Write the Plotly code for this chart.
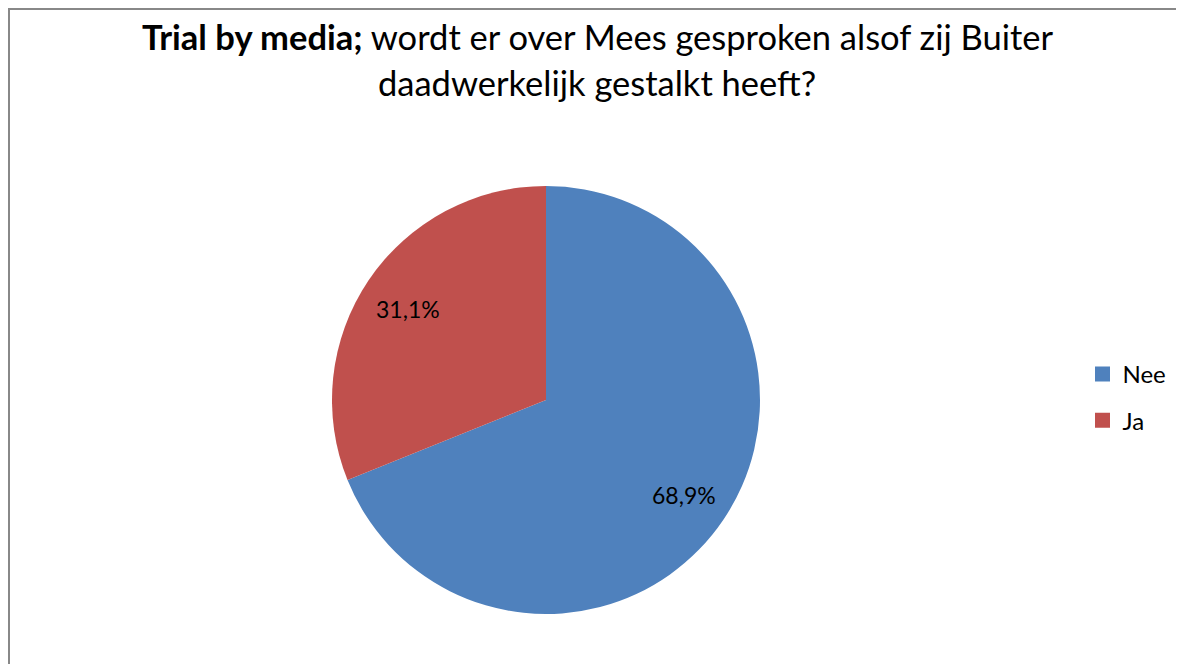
import math
import plotly.graph_objects as go

labels = ["Nee", "Ja"]
values = [68.9, 31.1]
colors = ["#4F81BD", "#C0504D"]
title_line1 = "<b>Trial by media;</b> wordt er over Mees gesproken alsof zij Buiter"
title_line2 = "daadwerkelijk gestalkt heeft?"

# page is offset by the 8px body margin; work in figure pixels
W, H = 1168, 656
OFF = 8
cx, cy, r = 546 - OFF, 400 - OFF, 214
FONT = "Lato, sans-serif"


def px(x):
    return x / W


def py(y):
    return 1 - y / H


fig = go.Figure()
fig.add_trace(go.Pie(
    labels=labels, values=values, sort=False, direction="clockwise", rotation=0,
    marker=dict(colors=colors, line=dict(width=0)),
    textinfo="none", showlegend=False, hoverinfo="label+percent",
    domain=dict(x=[px(cx - r), px(cx + r)], y=[py(cy + r), py(cy - r)]),
))
for lab, col in zip(labels, colors):
    fig.add_trace(go.Scatter(
        x=[None], y=[None], mode="markers", name=lab, legendgroup=lab,
        marker=dict(symbol="square", size=15, color=col), showlegend=True,
    ))

# data labels placed at the middle angle of each slice
annotations = []
total = sum(values)
cum = 0.0
for v in values:
    mid = (cum + v / 2) / total * 2 * math.pi
    cum += v
    lx = cx + 0.78 * r * math.sin(mid)
    ly = cy - 0.78 * r * math.cos(mid) + 2
    txt = f"{v / total * 100:.1f}%".replace(".", ",")
    annotations.append(dict(
        x=px(lx), y=py(ly), xref="paper", yref="paper", text=txt, showarrow=False,
        xanchor="center", yanchor="middle",
        font=dict(family=FONT, size=23, color="black"),
    ))

annotations.append(dict(
    x=px(597 - OFF), y=py(36 - OFF), xref="paper", yref="paper", text=title_line1,
    showarrow=False, xanchor="center", yanchor="middle",
    font=dict(family=FONT, size=34.5, color="black"),
))
annotations.append(dict(
    x=px(597 - OFF), y=py(82 - OFF), xref="paper", yref="paper", text=title_line2,
    showarrow=False, xanchor="center", yanchor="middle",
    font=dict(family=FONT, size=34.5, color="black"),
))

fig.update_layout(
    width=W, height=H,
    margin=dict(l=0, r=0, t=0, b=0),
    paper_bgcolor="white", plot_bgcolor="white",
    xaxis=dict(visible=False), yaxis=dict(visible=False),
    annotations=annotations,
    legend=dict(
        x=px(1082.5 - OFF), xanchor="left", y=py(352 - OFF), yanchor="top",
        font=dict(family=FONT, size=24, color="black"),
        tracegroupgap=12, itemwidth=30, bgcolor="rgba(0,0,0,0)",
    ),
    shapes=[dict(type="rect", xref="paper", yref="paper",
                 x0=px(1), x1=px(W + 10), y0=-0.05, y1=py(1),
                 line=dict(color="#888888", width=2), layer="above")],
)
fig.write_html("out.html")
